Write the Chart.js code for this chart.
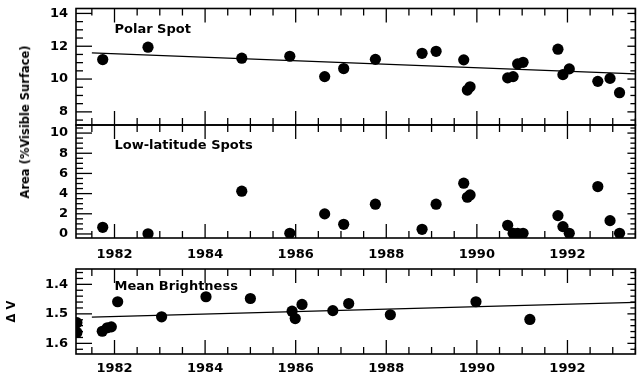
<!DOCTYPE html>
<html><head><meta charset="utf-8">
<script src="https://cdn.jsdelivr.net/npm/chart.js@4.4.0/dist/chart.umd.min.js"></script>
<style>
html,body{margin:0;padding:0;background:#fff;width:640px;height:379px;overflow:hidden;position:relative}
.c{position:absolute;left:0;width:641px}
#yt{position:absolute;left:25px;top:122px;transform:translate(-50%,-50%) rotate(-90deg);font:bold 11.5px "DejaVu Sans";white-space:nowrap;color:#000}
</style></head><body>
<div class="c" style="top:0;height:131px"><canvas id="c1" width="641" height="131"></canvas></div>
<div class="c" style="top:118px;height:144px"><canvas id="c2" width="641" height="144"></canvas></div>
<div class="c" style="top:262px;height:117px"><canvas id="c3" width="641" height="117"></canvas></div>
<div id="yt">Area (%Visible Surface)</div>
<script>
// ---- data ----
const years = [1981.74, 1982.74, 1984.81, 1985.87, 1986.64, 1987.06, 1987.76, 1988.79, 1989.10, 1989.71, 1989.79, 1989.85, 1990.68, 1990.80, 1990.90, 1991.02, 1991.79, 1991.90, 1992.04, 1992.67, 1992.94, 1993.15];
const polarSpot = [11.19, 11.94, 11.27, 11.39, 10.15, 10.64, 11.20, 11.57, 11.69, 11.17, 9.33, 9.53, 10.07, 10.15, 10.92, 11.02, 11.82, 10.27, 10.62, 9.86, 10.04, 9.17];
const lowLatSpots = [0.66, 0.02, 4.24, 0.07, 1.99, 0.96, 2.95, 0.46, 2.95, 5.03, 3.64, 3.87, 0.86, 0.07, 0.07, 0.07, 1.82, 0.73, 0.07, 4.70, 1.32, 0.07];
const brightYears = [1981.17, 1981.17, 1981.73, 1981.84, 1981.93, 1982.07, 1983.04, 1984.02, 1985.00, 1985.92, 1985.99, 1986.14, 1986.82, 1987.17, 1988.09, 1989.98, 1991.17];
const brightness = [1.530, 1.563, 1.559, 1.547, 1.544, 1.459, 1.510, 1.442, 1.448, 1.491, 1.516, 1.468, 1.489, 1.465, 1.503, 1.459, 1.519];
const fitYears = [1981.5, 1993.5];
const polarFit = [11.60, 10.31];
const brightFit = [1.511, 1.461];
const panelLabels = ['Polar Spot', 'Low-latitude Spots', 'Mean Brightness'];
const yTitle3 = 'Δ V';

// ---- drawing helpers ----
const FONT = 'DejaVu Sans';
const near = (v) => Math.abs(v - Math.round(v)) < 1e-6;
function seg(ctx, x1, y1, x2, y2) { ctx.beginPath(); ctx.moveTo(x1, y1); ctx.lineTo(x2, y2); ctx.stroke(); }

function makeFrame(cfg) {
  return {
    id: 'frame_' + cfg.id,
    afterDraw(chart) {
      const ctx = chart.ctx;
      ctx.save();
      const a = chart.chartArea, x = chart.scales.x, y = chart.scales.y;
      ctx.strokeStyle = '#000';
      ctx.lineWidth = 1.3;
      const xStep = 0.5, xMajor = 2;
      const i0 = Math.ceil(x.min / xStep - 1e-9), i1 = Math.floor(x.max / xStep + 1e-9);
      for (let i = i0; i <= i1; i++) {
        const v = i * xStep;
        const px = x.getPixelForValue(v);
        const L = near(v / xMajor) ? 14 : 7;
        seg(ctx, px, a.bottom, px, a.bottom - L);
        seg(ctx, px, a.top, px, a.top + L);
      }
      const j0 = Math.ceil(cfg.yMin / cfg.yStep - 1e-9), j1 = Math.floor(cfg.yMax / cfg.yStep + 1e-9);
      for (let j = j0; j <= j1; j++) {
        const v = j * cfg.yStep;
        const py = y.getPixelForValue(v);
        const major = near(v / cfg.yMajor);
        seg(ctx, a.left, py, a.left + (major ? 16 : 7), py);
        seg(ctx, a.right, py, a.right - (major ? 8 : 5), py);
      }
      ctx.lineWidth = 1.6;
      ctx.strokeRect(a.left, a.top, a.right - a.left, a.bottom - a.top);
      ctx.fillStyle = '#000';
      ctx.font = 'bold 13px "' + FONT + '"';
      ctx.textBaseline = 'alphabetic';
      ctx.textAlign = 'left';
      ctx.fillText(cfg.label, a.left + 38.5, a.top + cfg.ly);
      ctx.restore();
    }
  };
}

function fixPad(s) {
  s.paddingTop = 0; s.paddingBottom = 0; s.paddingLeft = 0; s.paddingRight = 0;
}

function makeChart(cfg) {
  const tickFont = {family: FONT, weight: 'bold', size: 13};
  const datasets = [
    {data: cfg.xs.map((x, i) => ({x, y: cfg.ys[i]})), pointRadius: 5.6,
     pointBackgroundColor: '#000', pointBorderWidth: 0, clip: 0}
  ];
  if (cfg.fit) datasets.push({data: fitYears.map((x, i) => ({x, y: cfg.fit[i]})), showLine: true,
    borderColor: '#000', borderWidth: 1.3, pointRadius: 0, clip: 0});
  return new Chart(document.getElementById(cfg.id), {
    type: 'scatter',
    data: {datasets},
    options: {
      responsive: false, animation: false, events: [], devicePixelRatio: 1,
      layout: {padding: {top: cfg.padTop, right: 5, bottom: cfg.padBottom, left: 0}},
      plugins: {legend: {display: false}, tooltip: {enabled: false}},
      scales: {
        x: {type: 'linear', min: 1981.15, max: 1993.5,
          grid: {display: false, drawTicks: false}, border: {display: false},
          ticks: {display: cfg.xLabels, stepSize: 0.5, autoSkip: false, maxRotation: 0, minRotation: 0, includeBounds: false,
            padding: cfg.xPad, color: '#000', font: tickFont,
            callback: v => near(v / 2) ? String(Math.round(v)) : ''},
          afterFit: s => { s.height = cfg.xH; fixPad(s); }},
        y: {type: 'linear', min: cfg.yMin, max: cfg.yMax, reverse: !!cfg.reverse,
          grid: {display: false, drawTicks: false}, border: {display: false},
          title: cfg.yTitle ? {display: true, text: cfg.yTitle, color: '#000', font: {family: FONT, weight: 'bold', size: 11.5}, padding: {top: 5.5, bottom: 0}} : {display: false},
          ticks: {stepSize: cfg.yStep, autoSkip: false, includeBounds: false, padding: 8, color: '#000', font: tickFont,
            callback: v => near(v / cfg.yMajor) ? (cfg.yMajor < 1 ? v.toFixed(1) : String(Math.round(v))) : ''},
          afterFit: s => { s.width = 76; fixPad(s); }}
      }
    },
    plugins: [makeFrame(cfg)]
  });
}

makeChart({id: 'c1', xs: years, ys: polarSpot, fit: polarFit, padTop: 8.5, padBottom: 6, xH: 0, xLabels: false, xPad: 0,
  yMin: 7.2, yMax: 14.3, yStep: 0.5, yMajor: 2, label: panelLabels[0], ly: 24.8});
makeChart({id: 'c2', xs: years, ys: lowLatSpots, fit: null, padTop: 7, padBottom: 0, xH: 24, xLabels: true, xPad: 8.7,
  yMin: -0.4, yMax: 10.8, yStep: 0.5, yMajor: 2, label: panelLabels[1], ly: 24.3});
makeChart({id: 'c3', xs: brightYears, ys: brightness, fit: brightFit, padTop: 7, padBottom: 0, xH: 25, xLabels: true, xPad: 6.7,
  yMin: 1.348, yMax: 1.636, reverse: true, yStep: 0.02, yMajor: 0.1, label: panelLabels[2], ly: 21, yTitle: yTitle3});
</script>
</body></html>
